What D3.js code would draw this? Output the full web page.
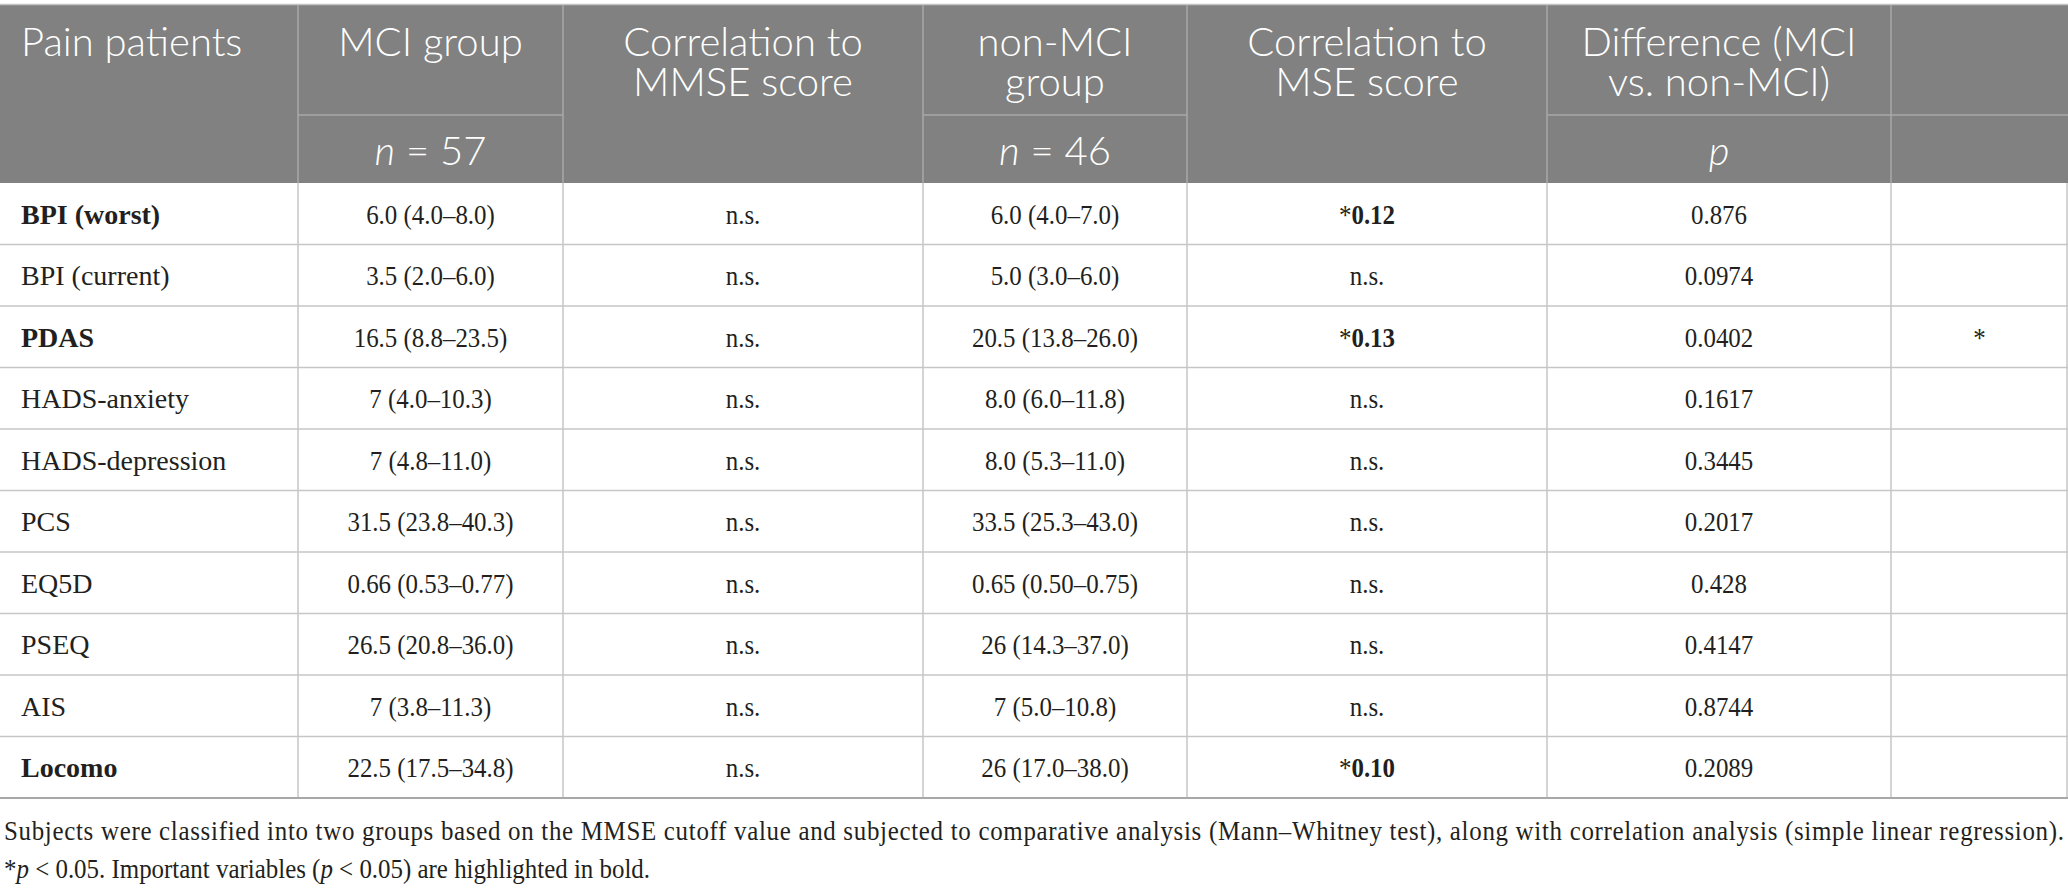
<!DOCTYPE html>
<html>
<head>
<meta charset="utf-8">
<script src="https://cdn.jsdelivr.net/npm/d3@7"></script>
<style>
  html, body { margin: 0; padding: 0; background: #fff; }
  svg { display: block; }
</style>
</head>
<body>
<div id="chart"></div>
<script>
const variables = ["BPI (worst)", "BPI (current)", "PDAS", "HADS-anxiety", "HADS-depression", "PCS", "EQ5D", "PSEQ", "AIS", "Locomo"];
const boldRows = [true, false, true, false, false, false, false, false, false, true];
const mciGroup = ["6.0 (4.0–8.0)", "3.5 (2.0–6.0)", "16.5 (8.8–23.5)", "7 (4.0–10.3)", "7 (4.8–11.0)", "31.5 (23.8–40.3)", "0.66 (0.53–0.77)", "26.5 (20.8–36.0)", "7 (3.8–11.3)", "22.5 (17.5–34.8)"];
const mmseCorr = ["n.s.", "n.s.", "n.s.", "n.s.", "n.s.", "n.s.", "n.s.", "n.s.", "n.s.", "n.s."];
const nonMciGroup = ["6.0 (4.0–7.0)", "5.0 (3.0–6.0)", "20.5 (13.8–26.0)", "8.0 (6.0–11.8)", "8.0 (5.3–11.0)", "33.5 (25.3–43.0)", "0.65 (0.50–0.75)", "26 (14.3–37.0)", "7 (5.0–10.8)", "26 (17.0–38.0)"];
const mseCorr = ["*0.12", "n.s.", "*0.13", "n.s.", "n.s.", "n.s.", "n.s.", "n.s.", "n.s.", "*0.10"];
const pValues = ["0.876", "0.0974", "0.0402", "0.1617", "0.3445", "0.2017", "0.428", "0.4147", "0.8744", "0.2089"];
const sigMarks = ["", "", "*", "", "", "", "", "", "", ""];

const headerTop = ["Pain patients", "MCI group", "Correlation to|MMSE score", "non-MCI|group", "Correlation to|MSE score", "Difference (MCI|vs. non-MCI)", ""];
const headerSub = [null, "n = 57", null, "n = 46", null, "p", ""];
const footnotes = [
  "Subjects were classified into two groups based on the MMSE cutoff value and subjected to comparative analysis (Mann–Whitney test), along with correlation analysis (simple linear regression).",
  "*p < 0.05. Important variables (p < 0.05) are highlighted in bold."
];

const width = 2068, height = 890;
const colEdges = [0, 298, 563, 923, 1187, 1547, 1891, 2068];
const headTop = 5, headSplit = 115, headBottom = 183, tableBottom = 798;
const squeeze = 0.89;

const serif = "'Liberation Serif', 'DejaVu Serif', serif";
const sans = "Lato, 'Open Sans', sans-serif";
const textColor = "#231f20";

const svg = d3.select("#chart").append("svg")
  .attr("width", width).attr("height", height)
  .attr("viewBox", [0, 0, width, height]);

const y = d3.scaleBand().domain(variables).range([headBottom, tableBottom]);
const cols = d3.range(colEdges.length - 1);
const cx = (i) => (colEdges[i] + colEdges[i + 1]) / 2;

// header
svg.append("rect").attr("x", 0).attr("y", headTop).attr("width", width)
  .attr("height", headBottom - headTop).attr("fill", "#808180");
svg.append("line").attr("x1", 0).attr("x2", width).attr("y1", headTop - 0.5).attr("y2", headTop - 0.5)
  .attr("stroke", "#c4c4c4").attr("stroke-width", 1.5);

const headLines = svg.append("g").attr("stroke", "#a9a9a9").attr("stroke-width", 1.5);
colEdges.slice(1, -1).forEach((x) => {
  headLines.append("line").attr("x1", x).attr("x2", x).attr("y1", headTop).attr("y2", headBottom);
});
cols.forEach((i) => {
  if (headerSub[i] !== null) {
    headLines.append("line").attr("x1", colEdges[i]).attr("x2", colEdges[i + 1])
      .attr("y1", headSplit).attr("y2", headSplit);
  }
});

const headText = svg.append("g").attr("fill", "#fff")
  .style("font-family", sans).style("font-size", "40px").style("font-weight", 300);
cols.forEach((i) => {
  if (headerTop[i]) {
    const x = i === 0 ? 21 : cx(i);
    const t = headText.append("text")
      .attr("x", x).attr("y", 56)
      .attr("text-anchor", i === 0 ? "start" : "middle");
    headerTop[i].split("|").forEach((ln, k) => {
      t.append("tspan").attr("x", x).attr("dy", k ? 40 : 0).text(ln);
    });
  }
  const sub = headerSub[i];
  if (sub) {
    const t = headText.append("text").attr("x", cx(i)).attr("y", 165).attr("text-anchor", "middle");
    if (sub.startsWith("n")) {
      t.append("tspan").style("font-style", "italic").text("n");
      t.append("tspan").text(sub.slice(1));
    } else {
      t.append("tspan").style("font-style", "italic").text(sub);
    }
  }
});

// body grid
const grid = svg.append("g").attr("stroke", "#c6c6c6").attr("stroke-width", 1.5);
variables.slice(1).forEach((v) => {
  grid.append("line").attr("x1", 0).attr("x2", width).attr("y1", y(v)).attr("y2", y(v));
});
colEdges.slice(1, -1).forEach((x) => {
  grid.append("line").attr("x1", x).attr("x2", x).attr("y1", headBottom).attr("y2", tableBottom);
});
grid.append("line").attr("x1", width - 1).attr("x2", width - 1).attr("y1", headBottom).attr("y2", tableBottom);
svg.append("line").attr("x1", 0).attr("x2", width).attr("y1", tableBottom).attr("y2", tableBottom)
  .attr("stroke", "#a8a8a8").attr("stroke-width", 2);

// body text
const body = svg.append("g").attr("fill", textColor).style("font-family", serif).style("font-size", "28px");
const columnsData = [variables, mciGroup, mmseCorr, nonMciGroup, mseCorr, pValues, sigMarks];

variables.forEach((v, r) => {
  const base = y(v) + y.bandwidth() / 2 + 10;
  columnsData.forEach((colVals, i) => {
    const val = colVals[r];
    if (!val) return;
    const t = body.append("text")
      .attr("text-anchor", i === 0 ? "start" : "middle")
      .attr("transform", i === 0
        ? `translate(21,${base})`
        : `translate(${cx(i)},${base}) scale(${squeeze},1)`);
    if (i === 0) {
      t.style("font-weight", boldRows[r] ? "bold" : "normal").text(val);
    } else if (val.startsWith("*") && val.length > 1) {
      t.append("tspan").text("*");
      t.append("tspan").style("font-weight", "bold").text(val.slice(1));
    } else {
      t.text(val);
    }
  });
});

// footnotes (first line justified to the table width)
const foot = svg.append("g").attr("fill", textColor).style("font-family", serif).style("font-size", "28px");
foot.append("text")
  .attr("transform", `translate(4,840) scale(${squeeze},1)`)
  .attr("textLength", (width - 8) / squeeze)
  .attr("lengthAdjust", "spacing")
  .text(footnotes[0]);
const f2 = foot.append("text").attr("transform", `translate(4,878) scale(${squeeze},1)`);
f2.append("tspan").text("*");
f2.append("tspan").style("font-style", "italic").text("p");
f2.append("tspan").text(" < 0.05. Important variables (");
f2.append("tspan").style("font-style", "italic").text("p");
f2.append("tspan").text(" < 0.05) are highlighted in bold.");
</script>
</body>
</html>
